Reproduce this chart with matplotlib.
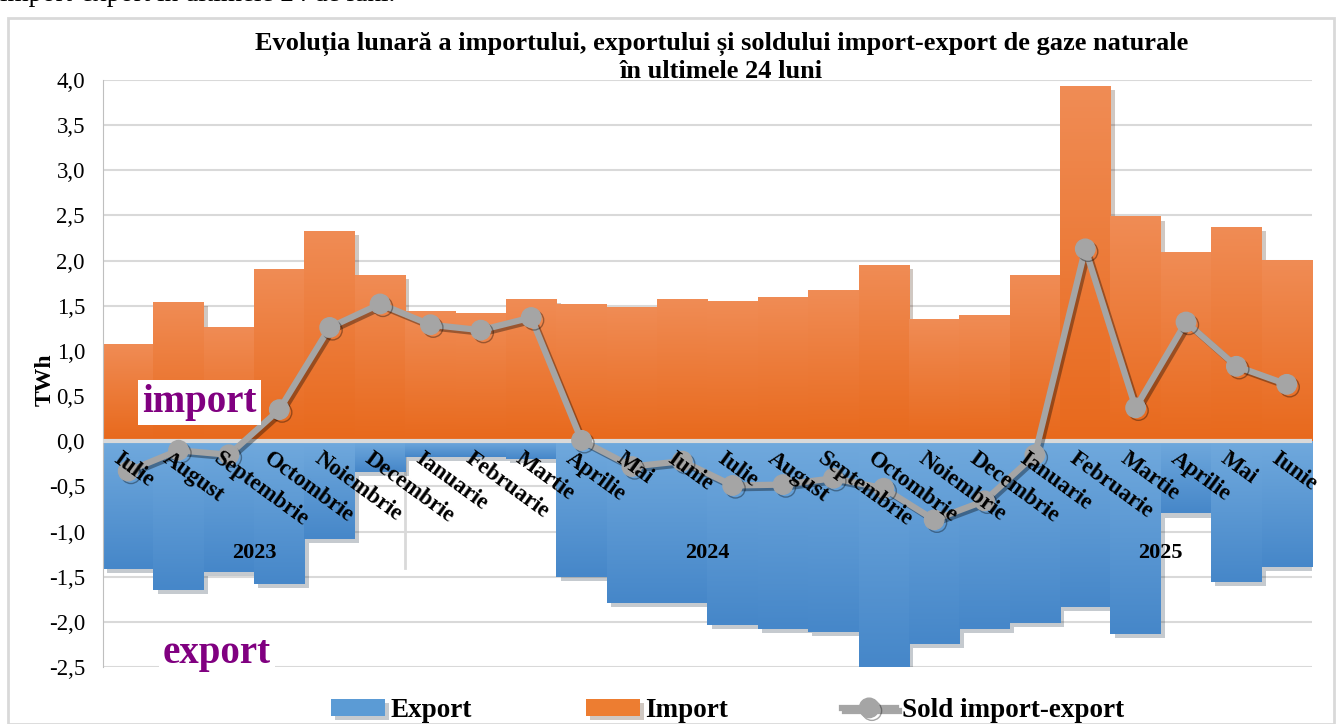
# Import / export gaze naturale - ultimele 24 luni

import numpy as np
import matplotlib.pyplot as plt
import matplotlib.patheffects as pe
from matplotlib.colors import LinearSegmentedColormap
from matplotlib.patches import Rectangle

plt.rcParams['font.family'] = ['Liberation Serif', 'DejaVu Serif']

months = ['Iulie', 'August', 'Septembrie', 'Octombrie', 'Noiembrie', 'Decembrie',
          'Ianuarie', 'Februarie', 'Martie', 'Aprilie', 'Mai', 'Iunie',
          'Iulie', 'August', 'Septembrie', 'Octombrie', 'Noiembrie', 'Decembrie',
          'Ianuarie', 'Februarie', 'Martie', 'Aprilie', 'Mai', 'Iunie']
years = ['2023', '2024', '2025']
year_len = [6, 12, 6]

imp = [1.08, 1.54, 1.27, 1.91, 2.33, 1.84,
       1.44, 1.42, 1.58, 1.52, 1.49, 1.57,
       1.55, 1.60, 1.67, 1.95, 1.35, 1.40,
       1.84, 3.93, 2.49, 2.09, 2.37, 2.01]
exp = [-1.41, -1.65, -1.45, -1.58, -1.08, -0.34,
       -0.17, -0.17, -0.20, -1.50, -1.79, -1.79,
       -2.03, -2.08, -2.11, -2.50, -2.24, -2.08,
       -2.01, -1.83, -2.13, -0.80, -1.56, -1.39]
sold = [-0.33, -0.10, -0.15, 0.35, 1.26, 1.52,
        1.29, 1.23, 1.37, 0.01, -0.28, -0.22,
        -0.49, -0.48, -0.41, -0.52, -0.87, -0.66,
        -0.15, 2.13, 0.37, 1.32, 0.83, 0.63]

x = np.arange(len(months)) + 0.5

fig = plt.figure(figsize=(13.36, 7.24), dpi=100)
ax = fig.add_axes([0.0771, 0.0787, 0.9049, 0.8108])

# frame and the cut text line above the chart
fig.patches.append(Rectangle((8 / 1336, 0), 1326 / 1336, 1 - 18 / 724, transform=fig.transFigure,
                             fill=False, edgecolor='#D9D9D9', lw=2))
fig.text(0.0, 1.008, 'import-export în ultimele 24 de luni.', fontsize=19.5, va='center', ha='left')

orange_cm = LinearSegmentedColormap.from_list('o', ['#E8691C', '#F08C55'])
blue_cm = LinearSegmentedColormap.from_list('b', ['#4687C9', '#70A9DD'])
grad = np.linspace(0, 1, 100).reshape(-1, 1)

shadow = [pe.SimplePatchShadow(offset=(3, -3), alpha=0.25), pe.Normal()]
b_exp = ax.bar(x, exp, width=1.0, color='#5B9BD5', zorder=2, label='Export')
b_imp = ax.bar(x, imp, width=1.0, color='#ED7D31', zorder=2, label='Import')
for bars, cm in [(b_exp, blue_cm), (b_imp, orange_cm)]:
    for p in bars:
        p.set_path_effects(shadow)
        x0, y0 = p.get_x(), p.get_y()
        y1 = y0 + p.get_height()
        im = ax.imshow(grad, cmap=cm, origin='lower', aspect='auto', zorder=2.1,
                       extent=[x0, x0 + p.get_width(), min(y0, y1), max(y0, y1)])
        im.set_clip_path(p)

line, = ax.plot(x, sold, color='#A5A5A5', lw=4.5, marker='o', markersize=14, zorder=4,
                label='Sold import-export',
                path_effects=[pe.SimpleLineShadow(offset=(2, -2), alpha=0.35), pe.Normal()])

ax.set_xlim(0, 24)
ax.set_ylim(-2.5, 4.0)
ax.set_yticks(np.arange(-2.5, 4.01, 0.5))
ax.set_yticklabels([f'{v:.1f}'.replace('.', ',') for v in np.arange(-2.5, 4.01, 0.5)], fontsize=16.5)
ax.set_xticks([])
ax.grid(axis='y', color='#D9D9D9', lw=1.5, zorder=0)
ax.set_axisbelow(True)
for s in ['top', 'right', 'bottom']:
    ax.spines[s].set_visible(False)
ax.spines['left'].set_color('#BFBFBF')
ax.tick_params(axis='y', length=0, pad=13)
ax.set_ylabel('TWh', fontsize=17, fontweight='bold')
ax.yaxis.set_label_coords(-0.039, 0.49)

# category axis with months and years
ax.axhline(0, color='#D9D9D9', lw=3, zorder=3)
for xi, m in zip(x, months):
    ax.text(xi - 0.14, -0.08, m, rotation=-36, rotation_mode='anchor', ha='left', va='top',
            fontsize=16.5, fontweight='bold', zorder=5)
start = 0
for yr, n in zip(years, year_len):
    ax.text(start + n / 2, -1.24, yr, ha='center', va='center', fontsize=16,
            fontweight='bold', zorder=5)
    if start > 0:
        ax.plot([start, start], [0, -1.4], color='#D9D9D9', lw=2, zorder=1.5)
    start += n

ax.text(1.92, 0.43, 'import', fontsize=28, fontweight='bold', color='#800080', ha='center',
        va='center', zorder=6,
        bbox=dict(facecolor='white', edgecolor='none', pad=3))
ax.text(2.26, -2.35, 'export', fontsize=28, fontweight='bold', color='#800080', ha='center',
        va='center', zorder=6,
        bbox=dict(facecolor='white', edgecolor='none', pad=3))

fig.text(0.54, 0.921, 'Evoluția lunară a importului, exportului și soldului import-export de gaze naturale\n'
         'în ultimele 24 luni', ha='center', va='center', fontsize=19, fontweight='bold',
         linespacing=1.2)

leg = ax.legend([b_exp, b_imp, line], ['Export', 'Import', 'Sold import-export'],
                loc='center', bbox_to_anchor=(0.5165, -0.074), ncol=3, frameon=False,
                prop={'size': 19.5, 'weight': 'bold'}, columnspacing=4.2, handlelength=2.0,
                handletextpad=0.2, handleheight=0.6)

fig.savefig('out.png', dpi=100)
